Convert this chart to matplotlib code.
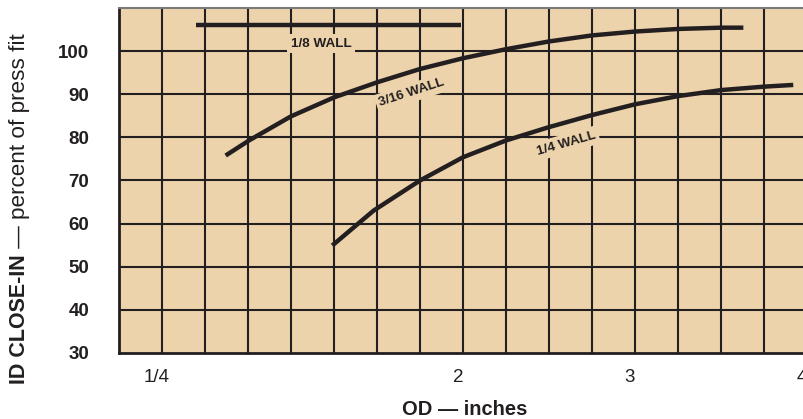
import numpy as np
import matplotlib
matplotlib.use("Agg")
import matplotlib.pyplot as plt
from matplotlib.transforms import ScaledTranslation

plt.rcParams['font.family'] = ['Liberation Sans', 'DejaVu Sans']

# curves (OD in inches, ID close-in in % of press fit)
od_eighth = [0.45, 1.99]
ci_eighth = [106.1, 106.1]

od_3_16 = [0.62, 0.76, 1.0, 1.25, 1.5, 1.75, 2.0, 2.25, 2.5, 2.75, 3.0, 3.25, 3.5, 3.63]
ci_3_16 = [75.8, 79.4, 84.9, 89.3, 92.8, 95.9, 98.4, 100.5, 102.3, 103.7, 104.6, 105.2, 105.5, 105.5]

od_quarter = [1.24, 1.48, 1.75, 2.0, 2.25, 2.5, 2.75, 3.0, 3.25, 3.5, 3.75, 3.92]
ci_quarter = [54.9, 63.0, 70.0, 75.4, 79.3, 82.4, 85.2, 87.7, 89.6, 91.0, 91.8, 92.2]

xtick_vals = [0.25, 2, 3, 4]
xtick_labels = ["1/4", "2", "3", "4"]
ytick_vals = [30, 40, 50, 60, 70, 80, 90, 100]

tan = "#ECD3AB"
ink = "#231F20"

fig = plt.figure(figsize=(8.04, 4.19), dpi=100)
ax = fig.add_axes([119/804, (419-352.7)/419, 688/804, 344.4/419])
ax.set_facecolor(tan)
ax.set_xlim(0, 4)
ax.set_ylim(30, 110)

# grid: a line every quarter inch and every 10 %
for gx in np.arange(0.25, 4.0, 0.25):
    ax.axvline(gx, color=ink, lw=1.5, zorder=1)
for gy in np.arange(40, 110, 10):
    ax.axhline(gy, color=ink, lw=1.5, zorder=1)

ax.set_xticks(xtick_vals)
ax.set_xticklabels(xtick_labels, fontsize=13.5, color=ink)
ax.set_yticks(ytick_vals)
ax.set_yticklabels([str(v) for v in ytick_vals], fontsize=13.5,
                   fontweight="bold", color=ink)
ax.tick_params(axis="x", length=0, pad=11.5)
ax.tick_params(axis="y", length=0, pad=21.5)
shift = ScaledTranslation(-5/100, 0, fig.dpi_scale_trans)
for lab in ax.get_xticklabels():
    lab.set_transform(lab.get_transform() + shift)

for side in ["left", "bottom"]:
    ax.spines[side].set_color(ink)
    ax.spines[side].set_linewidth(2)
ax.spines["top"].set_color("#7a7a7a")
ax.spines["top"].set_linewidth(1.5)
ax.spines["right"].set_visible(False)

# curves
for xs, ys in [(od_eighth, ci_eighth), (od_3_16, ci_3_16), (od_quarter, ci_quarter)]:
    ax.plot(xs, ys, color=ink, lw=3.2, solid_capstyle="butt",
            solid_joinstyle="round", zorder=3)

box = dict(boxstyle="square,pad=0.25", facecolor=tan, edgecolor="none")
ax.text(1.174, 101.8, "1/8 WALL", fontsize=9.7, fontweight="bold", color=ink,
        ha="center", va="center", bbox=box, zorder=4)
ax.text(1.703, 90.4, "3/16 WALL", fontsize=9.7, fontweight="bold", color=ink,
        ha="center", va="center", rotation=18, rotation_mode="anchor",
        bbox=box, zorder=4)
ax.text(2.599, 78.6, "1/4 WALL", fontsize=9.7, fontweight="bold", color=ink,
        ha="center", va="center", rotation=16, rotation_mode="anchor",
        bbox=box, zorder=4)

# axis titles
fig.text(465/804, 4/419, "OD \u2014 inches", fontsize=14.5, fontweight="bold",
         color=ink, ha="center", va="baseline")

t1 = fig.text(20/804, (419-384)/419, "ID CLOSE-IN", fontsize=15.5,
              fontweight="bold", color=ink, rotation=90, ha="center", va="bottom")
r = fig.canvas.get_renderer()
top = t1.get_window_extent(r).y1 / fig.bbox.height
fig.text(20/804, top, " \u2014 percent of press fit", fontsize=16.2, color=ink,
         rotation=90, ha="center", va="bottom")

fig.savefig("out.png", dpi=100, facecolor="white")
